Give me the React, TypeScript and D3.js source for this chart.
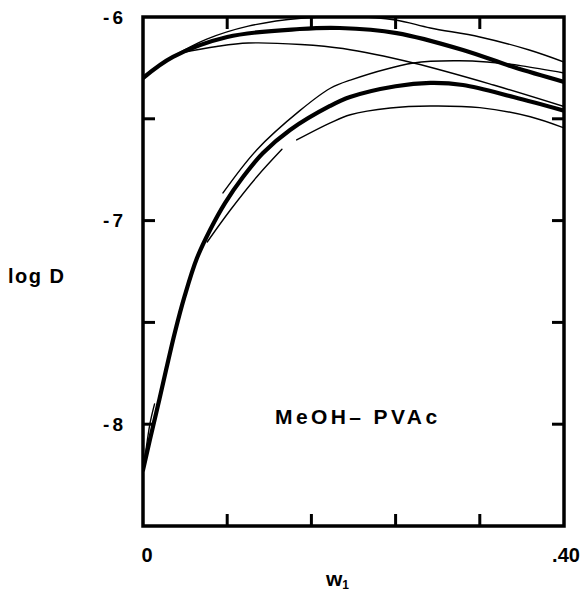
import React from "react";
import * as d3 from "d3";

// x: weight fraction w1, y: log D
const xTicks = [0, 0.08, 0.16, 0.24, 0.32, 0.4];
const yTicks = [-6, -6.5, -7, -7.5, -8];
const xTickLabels = [{ v: 0, t: "0" }, { v: 0.4, t: ".40" }];
const yTickLabels = [{ v: -6, t: "-6" }, { v: -7, t: "-7" }, { v: -8, t: "-8" }];

// thick curves
const thickUpper: [number, number][] = [
  [0, -6.3], [0.0285, -6.196], [0.08, -6.098], [0.149, -6.059], [0.187, -6.054],
  [0.241, -6.079], [0.304, -6.162], [0.352, -6.246], [0.4, -6.319],
];
const thickLower: [number, number][] = [
  [0, -8.225], [0.0067, -8.073], [0.0143, -7.906], [0.0219, -7.734], [0.0304, -7.547],
  [0.0399, -7.365], [0.0513, -7.184], [0.0637, -7.046], [0.0779, -6.914], [0.095, -6.786],
  [0.114, -6.668], [0.1397, -6.555], [0.1777, -6.437], [0.1967, -6.393],
  [0.24, -6.34], [0.273, -6.324], [0.304, -6.334], [0.352, -6.393], [0.4, -6.46],
];
// thin curves
const thinTop: [number, number][] = [
  [0.0275, -6.196], [0.06, -6.11], [0.1, -6.045], [0.15, -6.006], [0.2, -5.998],
  [0.24, -6.015], [0.273, -6.054], [0.32, -6.098], [0.367, -6.162], [0.4, -6.221],
];
const thinUpperBelow: [number, number][] = [
  [0.035, -6.177], [0.07, -6.145], [0.1, -6.128], [0.15, -6.135], [0.19, -6.155],
  [0.257, -6.226], [0.333, -6.334], [0.4, -6.44],
];
const thinLowerAbove: [number, number][] = [
  [0.076, -6.864], [0.108, -6.653], [0.149, -6.46], [0.178, -6.35], [0.197, -6.31],
  [0.257, -6.226], [0.3, -6.215], [0.327, -6.221], [0.36, -6.24], [0.4, -6.275],
];
const thinLowestA: [number, number][] = [
  [0.061, -7.105], [0.083, -6.948], [0.108, -6.786], [0.132, -6.65],
];
const thinLowestB: [number, number][] = [
  [0.146, -6.604], [0.178, -6.52], [0.197, -6.48], [0.235, -6.447], [0.273, -6.437],
  [0.32, -6.445], [0.368, -6.49], [0.4, -6.545],
];
const thinStart: [number, number][] = [
  [0.002, -8.16], [0.0067, -7.995], [0.011, -7.9],
];

const thickCurves = [thickUpper, thickLower];
const thinCurves = [thinTop, thinUpperBelow, thinLowerAbove, thinLowestA, thinLowestB, thinStart];

const W = 585;
const H = 591;
const L = 143, R = 564, T = 17, B = 526;

export default function App() {
  const x = d3.scaleLinear().domain([0, 0.4]).range([L, R]);
  const y = d3.scaleLinear().domain([-6, -8.5]).range([T, B]);
  const line = d3
    .line<[number, number]>()
    .x((d) => x(d[0]))
    .y((d) => y(d[1]))
    .curve(d3.curveCatmullRom.alpha(0.5));
  const font = "'Liberation Sans', Arial, Helvetica, sans-serif";
  const tickLen = 12;

  return (
    <svg
      width={W}
      height={H}
      style={{ position: "absolute", left: 0, top: 0, background: "#fff" }}
      fontFamily={font}
    >
      <defs>
        <clipPath id="plotClip">
          <rect x={L} y={T} width={R - L} height={B - T} />
        </clipPath>
      </defs>
      <g clipPath="url(#plotClip)" fill="none" stroke="#000" strokeLinecap="round">
        {thinCurves.map((c, i) => (
          <path key={"t" + i} d={line(c) || ""} strokeWidth={1.4} />
        ))}
        {thickCurves.map((c, i) => (
          <path key={"T" + i} d={line(c) || ""} strokeWidth={4.2} />
        ))}
      </g>
      {/* frame */}
      <rect x={L} y={T} width={R - L} height={B - T} fill="none" stroke="#000" strokeWidth={3.5} />
      {/* ticks */}
      <g stroke="#000" strokeWidth={3}>
        {xTicks.slice(1, -1).map((v) => (
          <g key={"x" + v}>
            <line x1={x(v)} x2={x(v)} y1={B} y2={B - tickLen} />
            <line x1={x(v)} x2={x(v)} y1={T} y2={T + tickLen} />
          </g>
        ))}
        {yTicks.slice(1).map((v) => (
          <g key={"y" + v}>
            <line x1={L} x2={L + tickLen} y1={y(v)} y2={y(v)} />
            <line x1={R} x2={R - tickLen} y1={y(v)} y2={y(v)} />
          </g>
        ))}
      </g>
      {/* tick labels */}
      <g fontWeight="bold" fontSize={19} fill="#000">
        {yTickLabels.map((d) => (
          <text key={d.t} x={126} y={y(d.v)} textAnchor="end" dominantBaseline="central" letterSpacing={3}>
            {d.t}
          </text>
        ))}
        {xTickLabels.map((d) => (
          <text key={d.t} x={x(d.v) + (d.v === 0 ? 4 : 2)} y={562} textAnchor="middle" fontSize={20}>
            {d.t}
          </text>
        ))}
      </g>
      {/* axis titles */}
      <text x={8} y={283} fontWeight="bold" fontSize={20} letterSpacing={1.5}>
        log D
      </text>
      <text x={326} y={586} fontWeight="bold" fontSize={21}>
        w
        <tspan fontSize={12} dy={3}>1</tspan>
      </text>
      <text x={275} y={424} fontWeight="bold" fontSize={21} letterSpacing={3.4}>
        MeOH– PVAc
      </text>
    </svg>
  );
}
